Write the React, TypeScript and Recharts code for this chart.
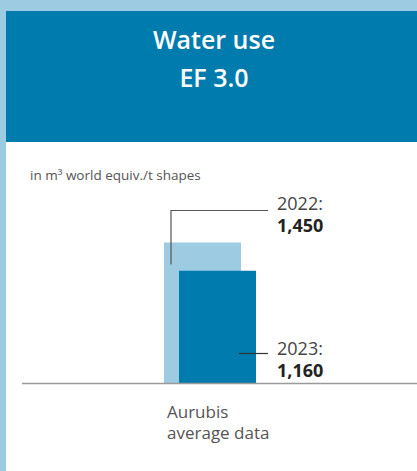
import React from 'react';
import { BarChart, Bar, XAxis, YAxis, LabelList } from 'recharts';

const categories = ['Aurubis average data'];
const categoryLines = [['Aurubis', 'average data']];
const years = ['2022', '2023'];
const values2022 = [1450];
const values2023 = [1160];
const title = ['Water use', 'EF 3.0'];
const unitLabel = 'in m³ world equiv./t shapes';

const data = categories.map((c, i) => ({ name: c, y2022: values2022[i], y2023: values2023[i] }));

const LIGHT = '#9dcbe2';
const DARK = '#007bad';
const FONT = '"Open Sans", sans-serif';
const fmt = (v: any) => Number(v).toLocaleString('en-US');

const Label2022 = (p: any) => {
  const x = Number(p.x), y = Number(p.y);
  const lx = x + 7;
  const topY = y - 32;
  return (
    <g>
      <polyline points={`${lx},${y + 22} ${lx},${topY} ${x + 104},${topY}`} fill="none" stroke="#555" strokeWidth={1.2} />
      <text x={x + 113} y={topY} fontSize={18} fill="#444" fontFamily={FONT}>{years[0]}:</text>
      <text x={x + 113} y={topY + 22} fontSize={18} fontWeight="bold" fill="#222" fontFamily={FONT}>{fmt(p.value)}</text>
    </g>
  );
};

const Label2023 = (p: any) => {
  const x = Number(p.x), y = Number(p.y), h = Number(p.height);
  const bottom = y + h;
  const ly = bottom - 30;
  return (
    <g>
      <line x1={x + 60} x2={x + 89} y1={ly} y2={ly} stroke="#333" strokeWidth={1.2} />
      <text x={x + 98} y={bottom - 28.5} fontSize={18} fill="#444" fontFamily={FONT}>{years[1]}:</text>
      <text x={x + 98} y={bottom - 6.5} fontSize={18} fontWeight="bold" fill="#222" fontFamily={FONT}>{fmt(p.value)}</text>
    </g>
  );
};

const CategoryTick = (p: any) => {
  const idx = categories.indexOf(p.payload.value);
  const lines = categoryLines[idx >= 0 ? idx : 0];
  return (
    <g>
      {lines.map((l, i) => (
        <text key={i} x={p.x - 43} y={p.y + 34.5 + i * 21} fontSize={17} fill="#555" fontFamily={FONT}>{l}</text>
      ))}
    </g>
  );
};

export default function App() {
  return (
    <div style={{ position: 'absolute', left: 0, top: 0, width: 417, height: 471, background: LIGHT, overflow: 'hidden' }}>
      <div style={{ position: 'absolute', left: 6, top: 11, right: 0, bottom: 0, background: '#fff' }} />
      <div style={{ position: 'absolute', left: 6, top: 11, right: 0, height: 131, background: DARK }} />
      <svg width={417} height={471} style={{ position: 'absolute', left: 0, top: 0 }}>
        <text x={214} y={49} textAnchor="middle" fontSize={25} fill="#fff" fontFamily={FONT} fontWeight={600}>{title[0]}</text>
        <text x={214} y={87} textAnchor="middle" fontSize={25} fill="#fff" fontFamily={FONT} fontWeight={600}>{title[1]}</text>
        <text x={30} y={180} fontSize={13.5} fill="#555" fontFamily={FONT}>{unitLabel}</text>
      </svg>
      <div style={{ position: 'absolute', left: 0, top: 0 }}>
        <BarChart width={417} height={471} data={data} margin={{ top: 189, right: 0, bottom: 27.5, left: 22 }} barGap={-62} barSize={77}>
          <XAxis dataKey="name" height={60} padding={{ left: 0, right: 19 }} axisLine={{ stroke: '#9a9a9a', strokeWidth: 1.3 }} tickLine={false} tickSize={0} tickMargin={0} tick={<CategoryTick />} interval={0} />
          <YAxis hide domain={[0, 2000]} />
          <Bar dataKey="y2022" fill={LIGHT} isAnimationActive={false}>
            <LabelList dataKey="y2022" content={<Label2022 />} />
          </Bar>
          <Bar dataKey="y2023" fill={DARK} isAnimationActive={false}>
            <LabelList dataKey="y2023" content={<Label2023 />} />
          </Bar>
        </BarChart>
      </div>
    </div>
  );
}
